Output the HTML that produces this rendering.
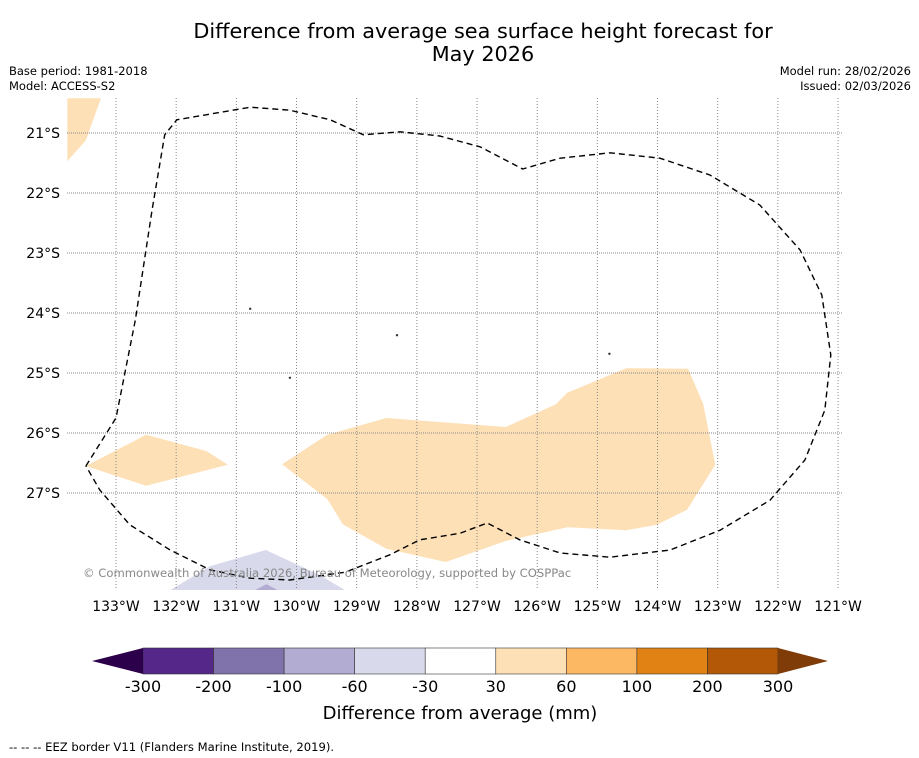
<!DOCTYPE html>
<html><head><meta charset="utf-8"><style>
body{margin:0;background:#fff;font-family:"DejaVu Sans","Liberation Sans",sans-serif}
svg{display:block}
</style></head><body>
<svg id="chart" width="919" height="758" viewBox="0 0 919 758" xmlns="http://www.w3.org/2000/svg" font-family="DejaVu Sans, Liberation Sans, sans-serif">
<text x="483" y="38" font-size="20.8" text-anchor="middle">Difference from average sea surface height forecast for</text>
<text x="483" y="61" font-size="20.8" text-anchor="middle">May 2026</text>
<text x="9" y="75" font-size="11.5">Base period: 1981-2018</text>
<text x="9" y="90" font-size="11.5">Model: ACCESS-S2</text>
<text x="911" y="75" font-size="11.5" text-anchor="end">Model run: 28/02/2026</text>
<text x="911" y="90" font-size="11.5" text-anchor="end">Issued: 02/03/2026</text>
<defs><clipPath id="mapclip"><rect x="67" y="98" width="776" height="492"/></clipPath></defs>
<g id="map" clip-path="url(#mapclip)"></g>
<g id="axes"></g>
<g id="cbar"></g>
<text x="460" y="719" font-size="18" text-anchor="middle">Difference from average (mm)</text>
<text x="9" y="751" font-size="11.6">--  --  -- EEZ border V11 (Flanders Marine Institute, 2019).</text>
</svg>
<script>
const lonTicks=[133,132,131,130,129,128,127,126,125,124,123,122,121];
const latTicks=[21,22,23,24,25,26,27];
const topLeftBlob=[[133.81,20.42],[133.25,20.42],[133.50,21.12],[133.81,21.47]];
const leftBlob=[[133.50,26.55],[132.50,26.03],[131.50,26.30],[131.14,26.53],[132.50,26.88]];
const bigBlob=[[130.24,26.52],[129.49,26.03],[128.51,25.75],[126.52,25.90],[125.69,25.52],[125.50,25.33],[124.52,24.92],[123.49,24.93],[123.24,25.52],[123.04,26.53],[123.51,27.28],[124.01,27.53],[124.52,27.62],[125.50,27.57],[126.52,27.80],[127.52,28.15],[128.51,27.93],[129.23,27.52],[129.49,27.10]];
const lowBlob=[[132.10,28.62],[131.44,28.22],[130.51,27.95],[129.61,28.37],[129.19,28.62]];
const lowBlob2=[[130.75,28.65],[130.5,28.52],[130.25,28.65]];
const eez=[[133.50,26.55],[133.00,25.75],[132.68,24.12],[132.40,22.28],[132.19,21.03],[131.99,20.78],[130.77,20.57],[130.11,20.62],[129.44,20.78],[128.89,21.03],[128.28,20.98],[127.62,21.05],[126.95,21.23],[126.24,21.60],[125.62,21.42],[124.79,21.33],[123.96,21.42],[123.13,21.70],[122.30,22.20],[121.63,22.95],[121.27,23.70],[121.12,24.70],[121.22,25.62],[121.55,26.45],[122.13,27.12],[122.96,27.62],[123.79,27.95],[124.79,28.07],[125.62,28.00],[126.29,27.78],[126.83,27.50],[127.28,27.67],[127.95,27.78],[128.45,28.03],[129.19,28.32],[130.11,28.45],[130.77,28.42],[131.44,28.28],[132.10,27.95],[132.77,27.53],[133.27,26.95],[133.50,26.55]];
const islands=[[130.77,23.93],[130.11,25.08],[128.33,24.37],[124.80,24.68]];
const cbarBounds=["-300","-200","-100","-60","-30","30","60","100","200","300"];
const cbarColors=["#542788","#8073ac","#b2abd2","#d8daeb","#ffffff","#fee0b6","#fdb863","#e08214","#b35806"];
const NS="http://www.w3.org/2000/svg";
const X=lon=>116+(133-lon)*60.17, Y=lat=>133+(lat-21)*60;
function mk(tag,attrs,parent){const e=document.createElementNS(NS,tag);for(const k in attrs)e.setAttribute(k,attrs[k]);parent.appendChild(e);return e;}
const map=document.getElementById('map'),axes=document.getElementById('axes'),cb=document.getElementById('cbar');
const pts=a=>a.map(p=>X(p[0]).toFixed(1)+','+Y(p[1]).toFixed(1)).join(' ');
let p;
p=mk('polygon',{points:pts(topLeftBlob),fill:'#fee0b6'},map);

p=mk('polygon',{points:pts(leftBlob),fill:'#fee0b6'},map);

p=mk('polygon',{points:pts(bigBlob),fill:'#fee0b6'},map);

p=mk('polygon',{points:pts(lowBlob),fill:'#d8daeb'},map);

p=mk('polygon',{points:pts(lowBlob2),fill:'#b2abd2'},map);

lonTicks.forEach(l=>{const g=mk('line',{x1:X(l),x2:X(l),y1:98,y2:590,stroke:'#888','stroke-width':1,'stroke-dasharray':'1,2'},map);

const t=mk('text',{x:X(l),y:611,'font-size':14,'text-anchor':'middle'},axes);t.textContent=l+'°W';
});
latTicks.forEach(l=>{const g=mk('line',{x1:67,x2:843,y1:Y(l),y2:Y(l),stroke:'#888','stroke-width':1,'stroke-dasharray':'1,1'},map);

const t=mk('text',{x:60,y:Y(l)+5,'font-size':14,'text-anchor':'end'},axes);t.textContent=l+'°S';
});
islands.forEach(c=>{const e=mk('circle',{cx:X(c[0]),cy:Y(c[1]),r:1.2,fill:'#333'},map);
});
p=mk('polyline',{points:pts(eez),fill:'none',stroke:'#000','stroke-width':1.4,'stroke-dasharray':'6,4'},map);

const cr=mk('text',{x:83,y:577,'font-size':11.6,fill:'#888'},map);cr.textContent='© Commonwealth of Australia 2026, Bureau of Meteorology, supported by COSPPac';

const x0=143,x1=778,y0=648,y1=674,w=(x1-x0)/cbarColors.length;
cbarColors.forEach((c,i)=>{const r=mk('rect',{x:x0+i*w,y:y0,width:w,height:y1-y0,fill:c,stroke:'#333','stroke-width':0.6},cb);
});
p=mk('polygon',{points:`${x0},${y0} 92,661 ${x0},${y1}`,fill:'#2d004b'},cb);

p=mk('polygon',{points:`${x1},${y0} 828,661 ${x1},${y1}`,fill:'#7f3b08'},cb);

cbarBounds.forEach((b,i)=>{const t=mk('text',{x:x0+i*w,y:692,'font-size':16,'text-anchor':'middle'},cb);t.textContent=b;
});
</script>
</body></html>
